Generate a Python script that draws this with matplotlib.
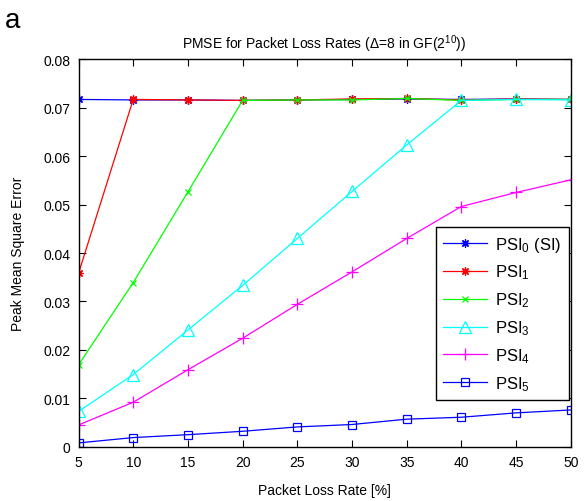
"PMSE vs packet loss rate, MATLAB-style line plot"

import matplotlib
matplotlib.use("Agg")
import matplotlib.pyplot as plt
from matplotlib.ticker import FixedLocator, FuncFormatter

plt.rcParams["font.family"] = ["Liberation Sans", "DejaVu Sans"]
plt.rcParams["mathtext.fontset"] = "custom"
plt.rcParams["mathtext.rm"] = "Liberation Sans"
plt.rcParams["mathtext.default"] = "regular"

#####
# Data
#####

loss = [5, 10, 15, 20, 25, 30, 35, 40, 45, 50]
psi0 = [0.0717, 0.0716, 0.0716, 0.0715, 0.0716, 0.0717, 0.0718, 0.0717, 0.0718, 0.0717]
psi1 = [0.0358, 0.0717, 0.0716, 0.0715, 0.0716, 0.0718, 0.0719, 0.0716, 0.0718, 0.0717]
psi2 = [0.0169, 0.0339, 0.0526, 0.0715, 0.0716, 0.0716, 0.0719, 0.0715, 0.0717, 0.0717]
psi3 = [0.0073, 0.0149, 0.0241, 0.0333, 0.0430, 0.0527, 0.0623, 0.0715, 0.0717, 0.0716]
psi4 = [0.0045, 0.0092, 0.0159, 0.0224, 0.0294, 0.0361, 0.0430, 0.0496, 0.0525, 0.0551]
psi5 = [0.0008, 0.0019, 0.0025, 0.0032, 0.0041, 0.0046, 0.0057, 0.0061, 0.0070, 0.0076]

labels = ["PSI$_0$ (SI)", "PSI$_1$", "PSI$_2$", "PSI$_3$", "PSI$_4$", "PSI$_5$"]
xticks = [5, 10, 15, 20, 25, 30, 35, 40, 45, 50]
yticks = [0, 0.01, 0.02, 0.03, 0.04, 0.05, 0.06, 0.07, 0.08]

# MATLAB-like styles: (color, marker, markersize)
asterisk = (8, 2, 0)
styles = [
    ("#0000ff", asterisk, 6),
    ("#ff0000", asterisk, 6),
    ("#00ff00", "x", 5),
    ("#00ffff", "^", 8),
    ("#ff00ff", "+", 8),
    ("#0000ff", "s", 6),
]

#####
# Plot
#####

fig = plt.figure(figsize=(5.86, 5.02), dpi=100)
ax = fig.add_axes([0.134, 0.108, 0.840, 0.772])

series = [psi0, psi1, psi2, psi3, psi4, psi5]
for values, label, (color, marker, ms) in zip(series, labels, styles):
    ax.plot(loss, values, color=color, linewidth=0.9, marker=marker,
            markersize=ms, markerfacecolor="none", markeredgecolor=color,
            markeredgewidth=0.9, label=label)

ax.set_xlim(5, 50)
ax.set_ylim(0, 0.08)
ax.xaxis.set_major_locator(FixedLocator(xticks))
ax.yaxis.set_major_locator(FixedLocator(yticks))
ax.yaxis.set_major_formatter(FuncFormatter(lambda v, p: f"{v:g}"))
ax.tick_params(direction="in", length=5, width=0.8, top=True, right=True,
               labelsize=10, pad=6)
for spine in ax.spines.values():
    spine.set_linewidth(1.0)

ax.set_title("PMSE for Packet Loss Rates (\u0394=8 in GF(2$^{10}$))",
             fontsize=10, pad=8)
ax.set_xlabel("Packet Loss Rate [%]", fontsize=10, labelpad=10)
ax.set_ylabel("Peak Mean Square Error", fontsize=10, labelpad=13)

leg = ax.legend(loc="upper right", bbox_to_anchor=(0.996, 0.567),
                borderaxespad=0, fancybox=False, framealpha=1,
                edgecolor="black", fontsize=12, handlelength=2.6,
                handletextpad=0.5, labelspacing=0.55, numpoints=1,
                borderpad=0.45)
leg.get_frame().set_linewidth(1.0)

fig.text(0.008, 0.945, "a", fontsize=20)

fig.savefig("out.png", dpi=100)
